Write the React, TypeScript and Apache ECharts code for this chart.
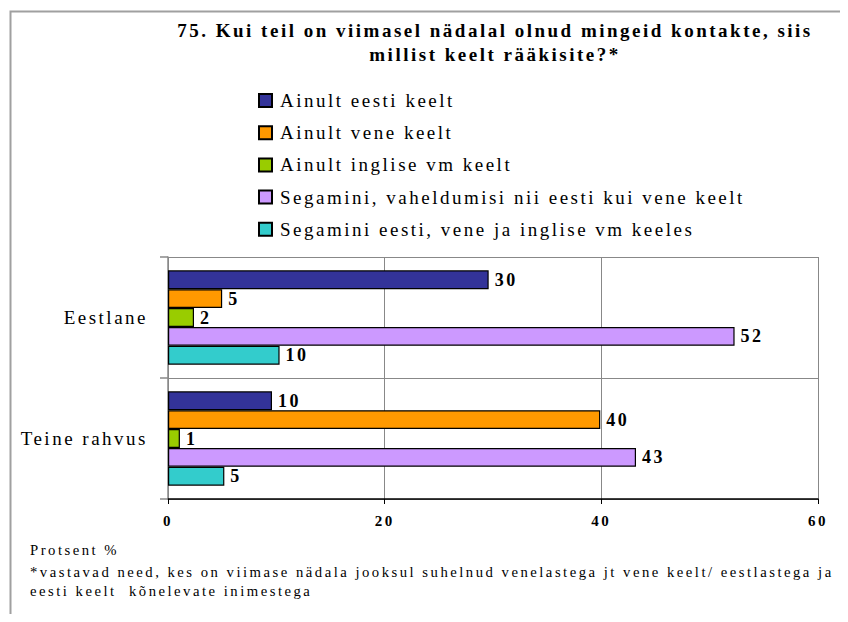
import React, { useEffect, useRef } from "react";
import * as echarts from "echarts";

const categories = ["Eestlane", "Teine rahvus"];
const seriesNames = [
  "Ainult eesti keelt",
  "Ainult vene keelt",
  "Ainult inglise vm keelt",
  "Segamini, vaheldumisi nii eesti kui vene keelt",
  "Segamini eesti, vene ja inglise vm keeles",
];
const ainultEesti = [29.6, 9.6];
const ainultVene = [5.0, 39.9];
const ainultInglise = [2.4, 1.1];
const segaminiEestiVene = [52.3, 43.2];
const segaminiKolm = [10.3, 5.2];
const seriesValues = [ainultEesti, ainultVene, ainultInglise, segaminiEestiVene, segaminiKolm];
const colors = ["#333399", "#FF9900", "#99CC00", "#CC99FF", "#33CCCC"];
const xTicks = { min: 0, max: 60, interval: 20 };
const titleText = "75. Kui teil on viimasel nädalal olnud mingeid kontakte, siis\nmillist keelt rääkisite?*";
const footLines = [
  "Protsent %",
  "*vastavad need, kes on viimase nädala jooksul suhelnud venelastega jt vene keelt/ eestlastega ja",
  "eesti keelt  kõnelevate inimestega",
];

const FONT = "Liberation Serif, Times New Roman, serif";

export default function App() {
  const ref = useRef<HTMLDivElement>(null);
  useEffect(() => {
    if (!ref.current) return;
    const chart = echarts.init(ref.current, undefined, { renderer: "svg" });
    chart.setOption({
      animation: false,
      backgroundColor: "#ffffff",
      textStyle: { fontFamily: FONT },
      grid: { left: 160, top: 249, width: 650, height: 242, containLabel: false },
      legend: {
        orient: "vertical",
        left: 245,
        top: 78,
        itemWidth: 13,
        itemHeight: 13,
        itemGap: 13.2,
        icon: "rect",
        data: seriesNames,
        textStyle: { fontFamily: FONT, fontSize: 19, color: "#000", padding: [0, 0, 0, 3] },
      },
      xAxis: {
        type: "value",
        min: xTicks.min,
        max: xTicks.max,
        interval: xTicks.interval,
        axisLine: { show: true, lineStyle: { color: "#000", width: 1.5 } },
        axisTick: { show: true, length: 5, lineStyle: { color: "#000" } },
        splitLine: { show: true, lineStyle: { color: "#888", width: 1 } },
        axisLabel: { fontFamily: FONT, fontSize: 15, fontWeight: "bold", color: "#000", margin: 14 },
      },
      yAxis: {
        type: "category",
        data: categories,
        inverse: true,
        axisLine: { show: true, lineStyle: { color: "#888", width: 1.5 } },
        axisTick: { show: true, length: 8, lineStyle: { color: "#888", width: 1.5 } },
        splitLine: { show: true, lineStyle: { color: "#888", width: 1 } },
        axisLabel: { fontFamily: FONT, fontSize: 19, color: "#000", margin: 20 },
      },
      series: seriesNames.map((name, i) => ({
        name,
        type: "bar",
        data: seriesValues[i],
        barGap: "0%",
        barCategoryGap: "22%",
        itemStyle: { color: colors[i], borderColor: "#000", borderWidth: 1.2 },
        label: {
          show: true,
          position: "right",
          distance: 6,
          fontFamily: FONT,
          fontSize: 18,
          fontWeight: "bold",
          color: "#000",
          formatter: (p: any) => String(Math.round(p.value)),
        },
      })),
      graphic: [
        {
          type: "rect",
          shape: { x: 2.5, y: 3.5, width: 1000, height: 1000 },
          style: { fill: "none", stroke: "#a0a0a0", lineWidth: 2 },
          silent: true,
        },
        {
          type: "text",
          x: 487,
          y: 10,
          style: {
            text: titleText,
            fontFamily: FONT,
            fontSize: 19,
            fontWeight: "bold",
            textAlign: "center",
            lineHeight: 24,
            fill: "#000",
          },
        },
        {
          type: "text",
          x: 22,
          y: 532,
          style: { text: footLines[0], fontFamily: FONT, fontSize: 14.7, lineHeight: 20, fill: "#000" },
        },
        {
          type: "text",
          x: 22,
          y: 554,
          style: {
            text: footLines[1] + "\n" + footLines[2],
            fontFamily: FONT,
            fontSize: 14.7,
            lineHeight: 19,
            fill: "#000",
          },
        },
      ],
    });
    return () => chart.dispose();
  }, []);
  return (
    <>
      <style>{`#root svg text { letter-spacing: 2.5px; }`}</style>
      <div ref={ref} style={{ width: 840, height: 606 }} />
    </>
  );
}
